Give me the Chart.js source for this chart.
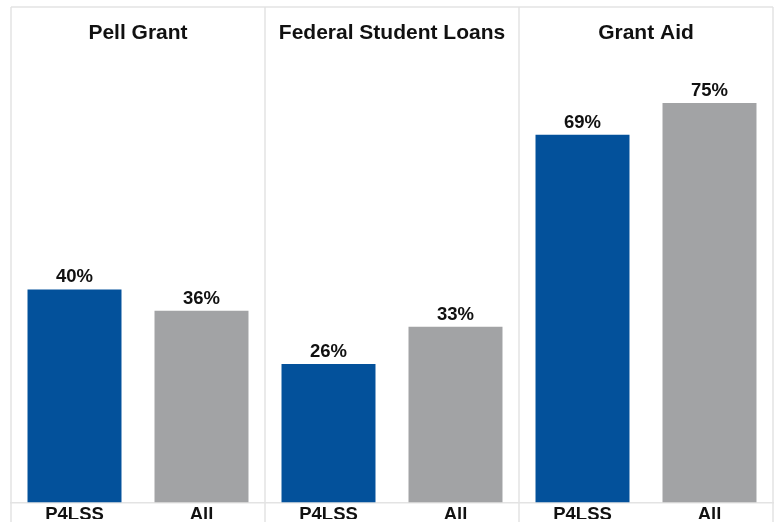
<!DOCTYPE html>
<html>
<head>
<meta charset="utf-8">
<script src="https://cdn.jsdelivr.net/npm/chart.js@4"></script>
<style>
  html,body{margin:0;padding:0;background:#fff;}
  #wrap{width:779px;height:522px;position:relative;}
</style>
</head>
<body>
<div id="wrap"><canvas id="chart"></canvas></div>
<script>
// panels (one per aid type) and the two groups inside each
const panels=['Pell Grant','Federal Student Loans','Grant Aid'];
const groups=['P4LSS','All'];
const p4lss=[40,26,69];       // % of P4LSS students
const allStudents=[36,33,75]; // % of all students

const groupColors=['#03519b','#a2a3a5'];
const lineColor='#e3e3e3';

// flatten into one category axis: P4LSS, All, P4LSS, All, ...
const labels=[], values=[], colors=[];
panels.forEach((p,i)=>{
  labels.push(groups[0]); values.push(p4lss[i]); colors.push(groupColors[0]);
  labels.push(groups[1]); values.push(allStudents[i]); colors.push(groupColors[1]);
});

const bold=(size)=>({family:'"Liberation Sans", Arial, sans-serif',size,weight:'bold'});

// frame, panel separators and panel titles
const panelFrame={
  id:'panelFrame',
  beforeDatasetsDraw(chart){
    const {ctx,chartArea:a,scales:{x}}=chart;
    const bounds=[a.left];
    for(let i=2;i<labels.length;i+=2){
      bounds.push((x.getPixelForValue(i-1)+x.getPixelForValue(i))/2);
    }
    bounds.push(a.right);
    ctx.save();
    ctx.strokeStyle=lineColor; ctx.lineWidth=1.5;
    ctx.beginPath();
    ctx.moveTo(a.left,a.top); ctx.lineTo(a.right,a.top);
    bounds.forEach(b=>{ ctx.moveTo(b,a.top); ctx.lineTo(b,chart.height); });
    ctx.stroke();
    ctx.fillStyle='#111';
    ctx.font='bold 21px "Liberation Sans", Arial, sans-serif';
    ctx.textAlign='center'; ctx.textBaseline='middle';
    panels.forEach((p,i)=>{
      ctx.fillText(p,(bounds[i]+bounds[i+1])/2,a.top+26);
    });
    ctx.restore();
  },
  afterDatasetsDraw(chart){
    const {ctx}=chart;
    const meta=chart.getDatasetMeta(0);
    ctx.save();
    ctx.fillStyle='#111';
    ctx.font='bold 18.5px "Liberation Sans", Arial, sans-serif';
    ctx.textAlign='center'; ctx.textBaseline='alphabetic';
    meta.data.forEach((bar,i)=>{
      ctx.fillText(values[i]+'%',bar.x,bar.y-7);
    });
    ctx.restore();
  }
};

new Chart(document.getElementById('chart'),{
  type:'bar',
  data:{labels,datasets:[{data:values,backgroundColor:colors,borderWidth:0,
    barPercentage:0.74,categoryPercentage:1}]},
  options:{
    responsive:true,maintainAspectRatio:false,animation:false,
    layout:{padding:{left:11,right:6,top:7,bottom:3}},
    plugins:{legend:{display:false},tooltip:{enabled:false}},
    scales:{
      y:{display:false,min:0,max:93},
      x:{
        grid:{display:false},
        border:{display:true,color:lineColor,width:1.5},
        ticks:{color:'#111',font:{...bold(18.5),lineHeight:1},padding:-5,maxRotation:0,autoSkip:false}
      }
    }
  },
  plugins:[panelFrame]
});
</script>
</body>
</html>
